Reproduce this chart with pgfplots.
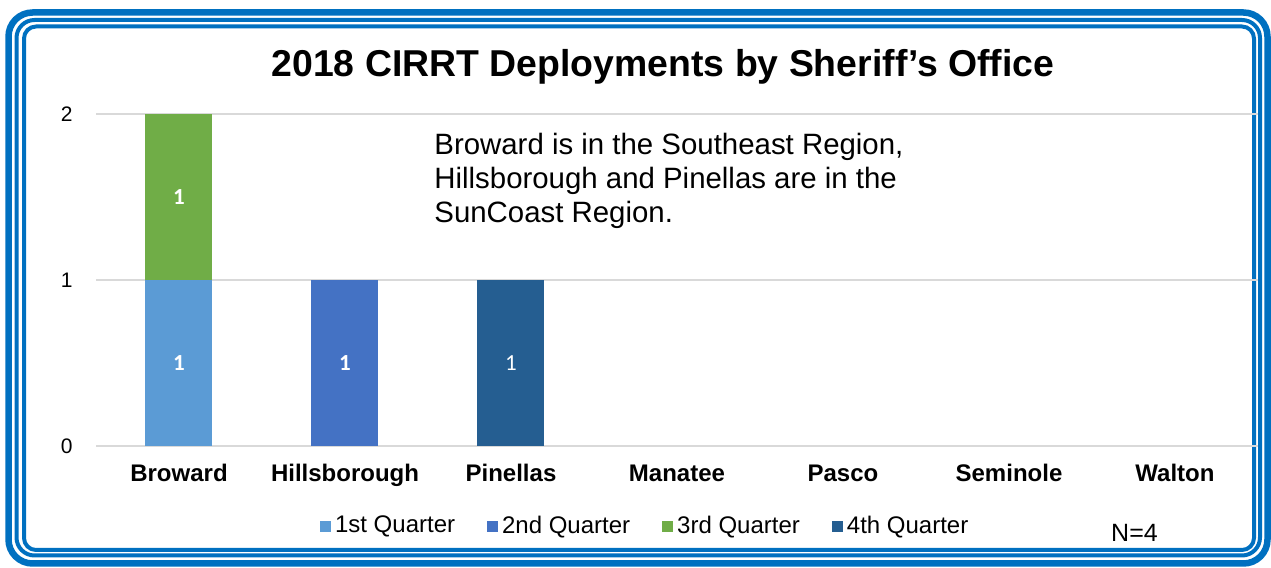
\documentclass[border=0pt]{standalone}
\usepackage{pgfplots}
\pgfplotsset{compat=1.18}
\usepackage{fontspec}
\setmainfont{Liberation Sans}
\newfontfamily\calibri{Carlito}

\definecolor{qone}{HTML}{5B9BD5}
\definecolor{qtwo}{HTML}{4472C4}
\definecolor{qthree}{HTML}{70AD47}
\definecolor{qfour}{HTML}{255E91}
\definecolor{framecol}{HTML}{0070C0}
\definecolor{gridcol}{HTML}{D9D9D9}

\begin{document}
\begin{tikzpicture}
\path[use as bounding box] (0,0) rectangle (635.5pt,284pt);
% triple rounded frame
\draw[framecol, line width=3.25pt, rounded corners=12pt] (4.25pt,2.25pt) rectangle (633.75pt,277.75pt);
\draw[framecol, line width=2pt, rounded corners=9pt] (8.25pt,6.25pt) rectangle (630pt,274pt);
\draw[framecol, line width=2pt, rounded corners=6pt] (12pt,9pt) rectangle (627pt,270.75pt);

\begin{axis}[
    at={(48pt,61pt)}, anchor=south west,
    scale only axis, width=581pt, height=166pt,
    xmin=-0.5, xmax=6.5, ymin=0, ymax=2,
    ybar stacked, bar width=33.5pt,
    axis line style={draw=none},
    major tick length=0pt,
    ymajorgrids,
    grid style={draw=gridcol, line width=1pt},
    xtick={0,...,6},
    xticklabels={Broward, Hillsborough, Pinellas, Manatee, Pasco, Seminole, Walton},
    xticklabel style={anchor=base, yshift=-18pt, font=\fontsize{12}{14}\selectfont\bfseries},
    ytick={0,1,2},
    yticklabel style={anchor=east, inner sep=0pt, xshift=-11.5pt, font=\fontsize{10.5}{12}\selectfont},
    /pgf/number format/assume math mode=true,
    point meta=explicit,
    nodes near coords={\pgfmathfloatifflags{\pgfplotspointmeta}{0}{}{\pgfmathprintnumber{\pgfplotspointmeta}}},
    every node near coord/.append style={anchor=center, text=white,
        font=\calibri\bfseries\fontsize{11.5}{13}\selectfont},
    legend columns=4,
    legend style={draw=none, fill=none, at={(0.4735,-0.241)}, anchor=center,
        font=\fontsize{12}{14}\selectfont,
        /tikz/every even column/.append style={column sep=14pt}},
    legend image code/.code={\fill[#1] (0pt,-2.75pt) rectangle (5.5pt,2.75pt);},
]
\addplot[fill=qone, draw=none] coordinates {(0,1) [1] (1,0) [0] (2,0) [0] (3,0) [0] (4,0) [0] (5,0) [0] (6,0) [0]};
\addlegendentry{1st Quarter}
\addplot[fill=qtwo, draw=none] coordinates {(0,0) [0] (1,1) [1] (2,0) [0] (3,0) [0] (4,0) [0] (5,0) [0] (6,0) [0]};
\addlegendentry{2nd Quarter}
\addplot[fill=qthree, draw=none] coordinates {(0,1) [1] (1,0) [0] (2,0) [0] (3,0) [0] (4,0) [0] (5,0) [0] (6,0) [0]};
\addlegendentry{3rd Quarter}
\addplot[fill=qfour, draw=none,
    every node near coord/.append style={font=\calibri\fontsize{11.5}{13}\selectfont}]
    coordinates {(0,0) [0] (1,0) [0] (2,1) [1] (3,0) [0] (4,0) [0] (5,0) [0] (6,0) [0]};
\addlegendentry{4th Quarter}
\end{axis}

\node[anchor=base, font=\bfseries\fontsize{18.7}{22}\selectfont] at (331.5pt,245.5pt)
    {2018 CIRRT Deployments by Sheriff's Office};
\node[anchor=base west, align=left, inner sep=0pt, font=\fontsize{14.7}{17}\selectfont] at (217pt,172.5pt)
    {Broward is in the Southeast Region,\\Hillsborough and Pinellas are in the\\SunCoast Region.};
\node[anchor=base, font=\fontsize{12.5}{14}\selectfont] at (567.25pt,13pt) {N=4};
\end{tikzpicture}
\end{document}
